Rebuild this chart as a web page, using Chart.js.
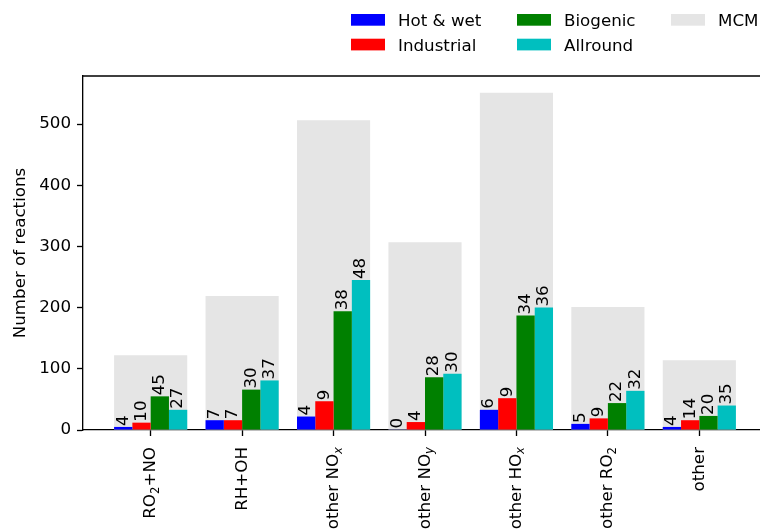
<!DOCTYPE html>
<html>
<head>
<meta charset="utf-8">
<script src="https://cdn.jsdelivr.net/npm/chart.js@4"></script>
<style>
  html, body { margin: 0; padding: 0; background: #fff; overflow: hidden; }
  canvas { display: block; }
</style>
</head>
<body>
<canvas id="chart" width="768" height="529"></canvas>
<script>
// categories, "_x" marks a subscript
const categories = ['RO_2+NO', 'RH+OH', 'other NO_x', 'other NO_y', 'other HO_x', 'other RO_2', 'other'];

// number of reactions
const mcm        = [122, 219, 506, 307, 551, 201, 114];
const hotWet     = [5, 16, 22, 1, 33, 10, 5];
const industrial = [12, 16, 47, 13, 52, 19, 16];
const biogenic   = [55, 66, 194, 86, 187, 44, 23];
const allround   = [33, 81, 245, 92, 200, 64, 40];

// percent labels written above the bars
const hotWetPct     = [4, 7, 4, 0, 6, 5, 4];
const industrialPct = [10, 7, 9, 4, 9, 9, 14];
const biogenicPct   = [45, 30, 38, 28, 34, 22, 20];
const allroundPct   = [27, 37, 48, 30, 36, 32, 35];

const yTicks = [0, 100, 200, 300, 400, 500];
const yMax = 578.5;

const FONT = 'DejaVu Sans';
const FS = 16.7;

const series = [
    { label: 'Hot & wet', data: hotWet, pct: hotWetPct, color: '#0000ff' },
    { label: 'Industrial', data: industrial, pct: industrialPct, color: '#ff0000' },
    { label: 'Biogenic', data: biogenic, pct: biogenicPct, color: '#008000' },
    { label: 'Allround', data: allround, pct: allroundPct, color: '#00bfbf' }
];
const mcmColor = '#e5e5e5';

function toPoints(arr) {
    return arr.map((v, i) => ({ x: i, y: v }));
}

const datasets = series.map(s => ({
    label: s.label,
    data: toPoints(s.data),
    backgroundColor: s.color,
    borderWidth: 0,
    categoryPercentage: 0.8,
    barPercentage: 1.0
}));
// MCM goes last so it is drawn first (behind), full width, not grouped
datasets.push({
    label: 'MCM',
    data: toPoints(mcm),
    backgroundColor: mcmColor,
    borderWidth: 0,
    grouped: false,
    categoryPercentage: 0.8,
    barPercentage: 1.0
});

// split "other NO_x" into parts
function labelParts(str) {
    const i = str.indexOf('_');
    if (i < 0) return [{ t: str, sub: false }];
    const parts = [{ t: str.slice(0, i), sub: false }, { t: str[i + 1], sub: true }];
    if (i + 2 < str.length) parts.push({ t: str.slice(i + 2), sub: false });
    return parts;
}

const decorations = {
    id: 'decorations',
    afterDatasetsDraw(chart) {
        const ctx = chart.ctx;
        ctx.save();
        ctx.fillStyle = '#000';
        ctx.font = FS + 'px "' + FONT + '"';
        ctx.textAlign = 'left';
        ctx.textBaseline = 'middle';
        series.forEach((s, di) => {
            const meta = chart.getDatasetMeta(di);
            meta.data.forEach((bar, j) => {
                ctx.save();
                ctx.translate(bar.x, bar.y - 1);
                ctx.rotate(-Math.PI / 2);
                ctx.fillText(String(s.pct[j]), 0, 0);
                ctx.restore();
            });
        });
        ctx.restore();
    },
    afterDraw(chart) {
        const ctx = chart.ctx;
        const area = chart.chartArea;
        ctx.save();
        // top and right spines
        ctx.strokeStyle = '#000';
        ctx.lineWidth = 1.33;
        ctx.beginPath();
        ctx.moveTo(area.left, area.top);
        ctx.lineTo(area.right, area.top);
        ctx.lineTo(area.right, area.bottom);
        ctx.stroke();

        // x tick labels, rotated, with subscripts
        const xScale = chart.scales.x;
        const mainFont = FS + 'px "' + FONT + '"';
        const subFont = 'italic ' + (FS * 0.7).toFixed(1) + 'px "' + FONT + '"';
        const subFontUp = (FS * 0.7).toFixed(1) + 'px "' + FONT + '"';
        ctx.fillStyle = '#000';
        ctx.textBaseline = 'alphabetic';
        ctx.textAlign = 'left';
        categories.forEach((c, i) => {
            const parts = labelParts(c);
            const fonts = parts.map(p => p.sub ? (/[0-9]/.test(p.t) ? subFontUp : subFont) : mainFont);
            let total = 0;
            const widths = parts.map((p, k) => {
                ctx.font = fonts[k];
                const w = ctx.measureText(p.t).width;
                total += w;
                return w;
            });
            const x = xScale.getPixelForValue(i);
            ctx.save();
            ctx.translate(x, area.bottom + 17);
            ctx.rotate(-Math.PI / 2);
            let pos = -total;
            parts.forEach((p, k) => {
                ctx.font = fonts[k];
                ctx.fillText(p.t, pos, p.sub ? 8 : 4.5);
                pos += widths[k];
            });
            ctx.restore();
        });

        // y axis title
        ctx.font = FS + 'px "' + FONT + '"';
        ctx.textAlign = 'center';
        ctx.save();
        ctx.translate(25, (area.top + area.bottom) / 2);
        ctx.rotate(-Math.PI / 2);
        ctx.fillText('Number of reactions', 0, 0);
        ctx.restore();

        // legend, 3 columns filled top to bottom
        const legendItems = series.map(s => ({ label: s.label, color: s.color }))
            .concat([{ label: 'MCM', color: mcmColor }]);
        const colX = [351, 517, 671];
        const rowY = [26, 50.7];
        ctx.textAlign = 'left';
        legendItems.forEach((item, k) => {
            const col = Math.floor(k / 2);
            const row = k % 2;
            ctx.fillStyle = item.color;
            ctx.fillRect(colX[col], rowY[row] - 12, 34, 11.7);
            ctx.fillStyle = '#000';
            ctx.fillText(item.label, colX[col] + 47, rowY[row]);
        });
        ctx.restore();
    }
};

Chart.defaults.font.family = FONT;
Chart.defaults.font.size = FS;
Chart.defaults.color = '#000';

const ctx = document.getElementById('chart').getContext('2d');
const myChart = new Chart(ctx, {
    type: 'bar',
    data: { datasets: datasets },
    options: {
        responsive: false,
        animation: false,
        devicePixelRatio: 1,
        layout: { padding: { top: 76, right: 1, left: 0, bottom: 0 } },
        plugins: {
            legend: { display: false },
            tooltip: { enabled: false }
        },
        scales: {
            x: {
                type: 'linear',
                min: -0.74,
                max: 6.74,
                offset: false,
                afterBuildTicks: scale => {
                    scale.ticks = categories.map((c, i) => ({ value: i }));
                },
                afterFit: scale => { scale.height = 99; },
                ticks: { callback: () => '', padding: 0 },
                grid: {
                    offset: false,
                    drawOnChartArea: false,
                    drawTicks: true,
                    tickLength: 6,
                    tickWidth: 1.33,
                    tickColor: '#000'
                },
                border: { display: true, color: '#000', width: 1.33 }
            },
            y: {
                min: 0,
                max: yMax,
                afterBuildTicks: scale => {
                    scale.ticks = yTicks.map(v => ({ value: v }));
                },
                afterFit: scale => { scale.width = 83; },
                ticks: { padding: 6, font: { size: FS } },
                grid: {
                    drawOnChartArea: false,
                    drawTicks: true,
                    tickLength: 6,
                    tickWidth: 1.33,
                    tickColor: '#000'
                },
                border: { display: true, color: '#000', width: 1.33 }
            }
        }
    },
    plugins: [decorations]
});
</script>
</body>
</html>
